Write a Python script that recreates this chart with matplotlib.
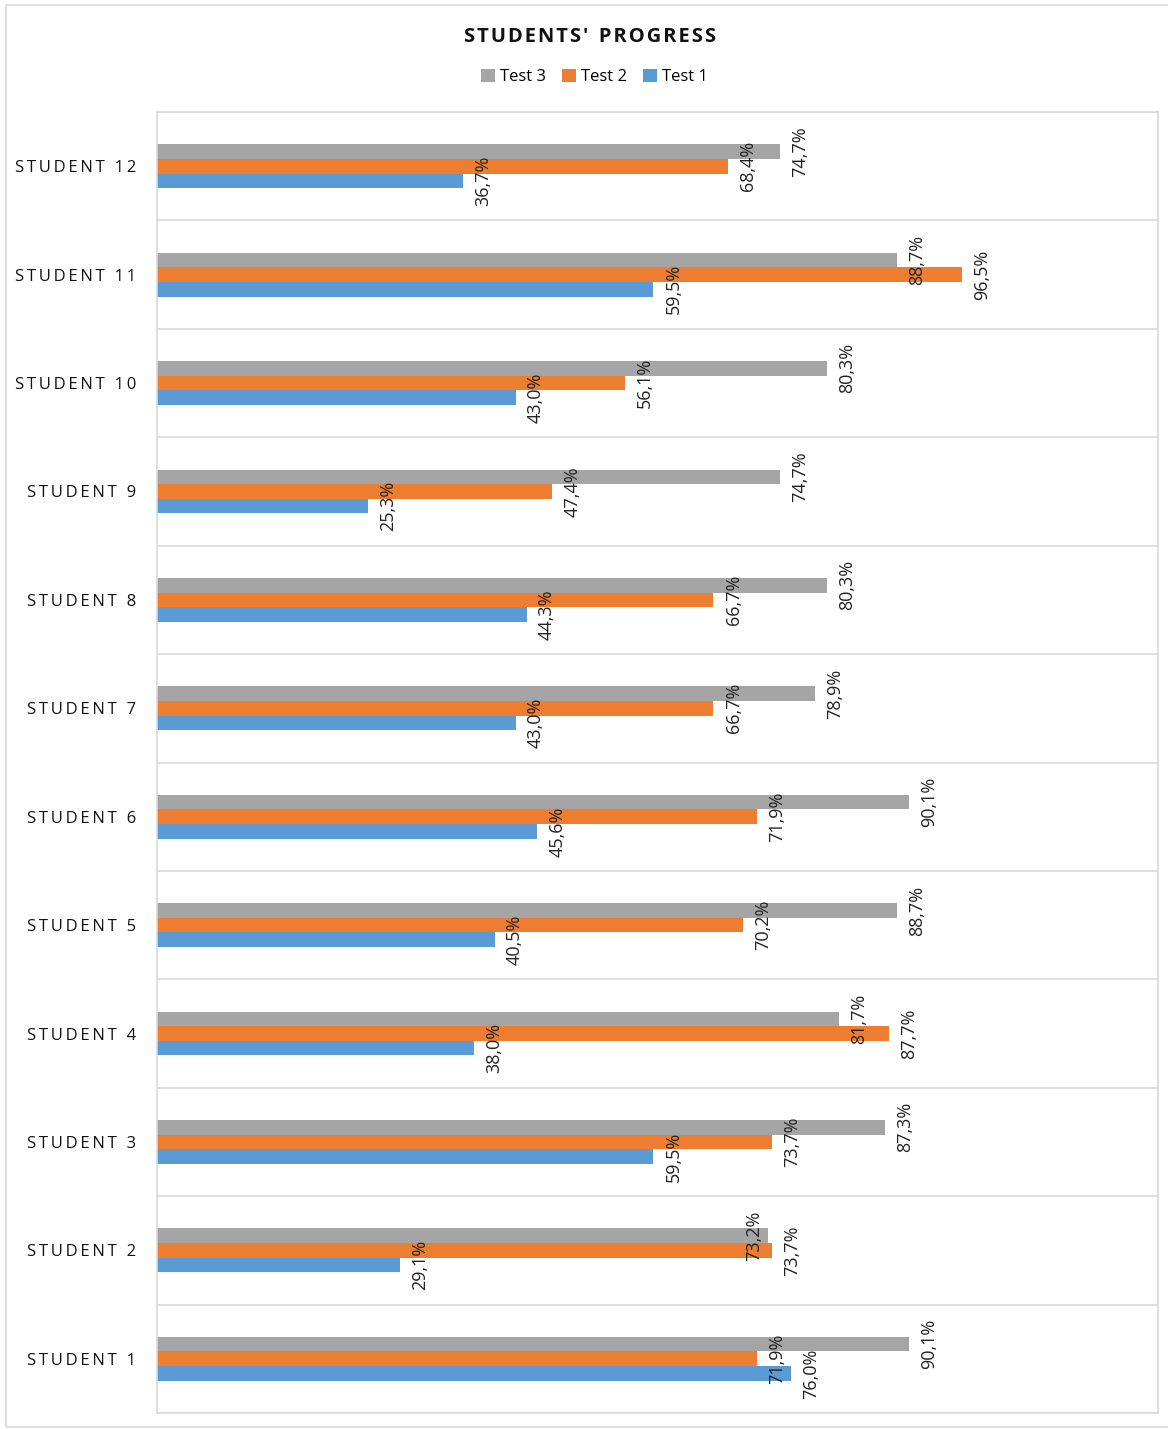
import matplotlib
matplotlib.use("Agg")
import matplotlib.pyplot as plt
import numpy as np
from matplotlib.patches import Rectangle

students = [f"STUDENT {i}" for i in range(1, 13)]
test1 = [76.0, 29.1, 59.5, 38.0, 40.5, 45.6, 43.0, 44.3, 25.3, 43.0, 59.5, 36.7]
test2 = [71.9, 73.7, 73.7, 87.7, 70.2, 71.9, 66.7, 66.7, 47.4, 56.1, 96.5, 68.4]
test3 = [90.1, 73.2, 87.3, 81.7, 88.7, 90.1, 78.9, 80.3, 74.7, 80.3, 88.7, 74.7]

series = [("Test 3", test3, "#A5A5A5"), ("Test 2", test2, "#ED7D31"), ("Test 1", test1, "#5B9BD5")]

plt.rcParams["font.family"] = ["Open Sans", "DejaVu Sans"]

fig = plt.figure(figsize=(11.68, 14.29), dpi=100)
fig.patches.append(Rectangle((6 / 1168, 2 / 1429), 1.2, 1422 / 1429, transform=fig.transFigure,
                             fill=False, edgecolor="#D9D9D9", linewidth=1.2))
ax = fig.add_axes([157 / 1168, 16 / 1429, 1001 / 1168, 1301 / 1429])

y = np.arange(len(students))
h = 0.135
for k, (name, vals, color) in enumerate(series):
    off = h * (1 - k)
    bars = ax.barh(y + off, vals, height=h, color=color, label=name)
    for i, (rect, v) in enumerate(zip(bars, vals)):
        # Excel nudged the one label that would sit on top of its neighbour
        crowded = name == "Test 3" and abs(v - test2[i]) < 1.0
        ax.annotate(f"{v:.1f}%".replace(".", ","), (v, rect.get_y() + h / 2),
                    xytext=(-3 if crowded else 8, 0), textcoords="offset points", rotation=90,
                    ha="right" if crowded else "left", va="center", fontsize=13, color="#222222")

ax.set_xlim(0, 120)
ax.set_ylim(-0.5, len(students) - 0.5)
ax.set_xticks([])
ax.set_yticks(y)
ax.set_yticklabels(["\u2009".join(s) for s in students], fontsize=12, color="#111111")
ax.tick_params(axis="y", length=0, pad=15)
ax.set_yticks(np.arange(-0.5, len(students), 1), minor=True)
ax.tick_params(axis="y", which="minor", length=0)
ax.grid(axis="y", which="minor", color="#D9D9D9", linewidth=1.2)
for s in ax.spines.values():
    s.set_color("#D9D9D9")
    s.set_linewidth(1.2)

fig.text(0.505, 1 - 37 / 1429, "S\u200aT\u200aU\u200aD\u200aE\u200aN\u200aT\u200aS\u200a'  P\u200aR\u200aO\u200aG\u200aR\u200aE\u200aS\u200aS",
         ha="center", va="center", fontsize=14.5, fontweight="bold", color="#111111")
fig.legend(loc="center", bbox_to_anchor=(0.509, 1 - 77 / 1429), ncol=3, frameon=False,
           fontsize=12, handlelength=0.8, handleheight=0.8, handletextpad=0.3, columnspacing=1.0)

fig.savefig("out.png", dpi=100)
